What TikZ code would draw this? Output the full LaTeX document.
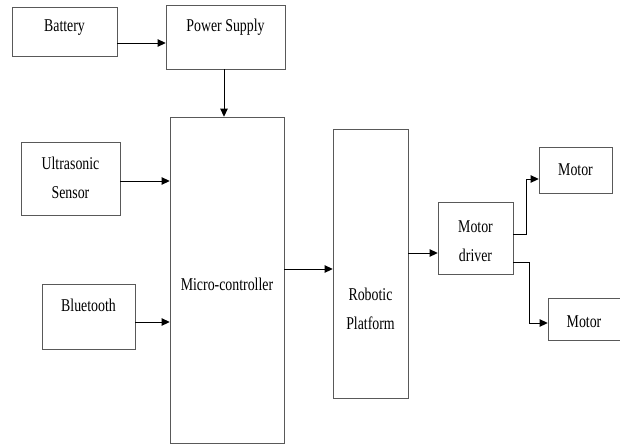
\documentclass[tikz,border=0pt]{standalone}
\usepackage{fontspec}
\setmainfont{Liberation Serif}
\usetikzlibrary{arrows.meta}
\newcommand{\cnd}[1]{\scalebox{0.77}[1]{#1}}
\begin{document}
\begin{tikzpicture}[x=1pt,y=-1pt,
  box/.style={draw=black!65, line width=0.7pt, inner sep=0pt, fill=white},
  txt/.style={font=\fontsize{18}{29}\selectfont, align=center, inner sep=0pt},
  arr/.style={draw=black, line width=0.9pt, -{Triangle[length=8pt,width=7.5pt]}}]
\useasboundingbox (0,0) rectangle (620,444);
% boxes
\node[box, minimum width=105pt, minimum height=49pt] (bat) at (64.5,31.5) {};
\node[box, minimum width=119pt, minimum height=64pt] (ps) at (225.5,37) {};
\node[box, minimum width=99pt, minimum height=73pt] (us) at (70.5,178.5) {};
\node[box, minimum width=93pt, minimum height=65pt] (bt) at (88.5,316.5) {};
\node[box, minimum width=114pt, minimum height=326pt] (mc) at (227,280) {};
\node[box, minimum width=75pt, minimum height=269pt] (rp) at (370.5,263.5) {};
\node[box, minimum width=75pt, minimum height=72pt] (md) at (475.5,238) {};
\node[box, minimum width=73pt, minimum height=46pt] (m1) at (575.5,170) {};
\node[box, minimum width=72pt, minimum height=42pt] (m2) at (584,319) {};
% texts
\node[txt] (tbat) at (64.5,28) {\cnd{Battery}};
\node[txt] (tps) at (225.5,27) {\cnd{Power Supply}};
\node[txt] (tus) at (70.5,178) {\cnd{Ultrasonic}\\\cnd{Sensor}};
\node[txt] (tbt) at (88.5,305) {\cnd{Bluetooth}};
\node[txt] (tmc) at (227,284) {\cnd{Micro-controller}};
\node[txt] (trp) at (370.5,309) {\cnd{Robotic}\\\cnd{Platform}};
\node[txt] (tmd) at (475.5,241.5) {\cnd{Motor}\\\cnd{driver}};
\node[txt] (tm1) at (575.5,170) {\cnd{Motor}};
\node[txt] (tm2) at (584,322) {\cnd{Motor}};
% connectors
\coordinate (a1) at ([yshift=-11.5pt]bat.east);
\draw[arr] (a1) -- (a1 -| ps.west);
\coordinate (a2) at ([xshift=-1.5pt]ps.south);
\draw[arr] (a2) -- (a2 |- mc.north);
\coordinate (a3) at ([yshift=-2.5pt]us.east);
\draw[arr] (a3) -- (a3 -| mc.west);
\coordinate (a4) at ([yshift=-5.5pt]bt.east);
\draw[arr] (a4) -- (a4 -| mc.west);
\coordinate (a5) at ([yshift=11pt]mc.east);
\draw[arr] (a5) -- (a5 -| rp.west);
\coordinate (a6) at ([yshift=10.5pt]rp.east);
\draw[arr] (a6) -- (a6 -| md.west);
\coordinate (a7) at ([yshift=4pt]md.east);
\coordinate (a8) at ([yshift=-9pt]m1.west);
\draw[arr] (a7) -- (526,234) -- (526,179) -- (a8);
\coordinate (a9) at ([yshift=-24pt]md.east);
\coordinate (a10) at ([yshift=-4pt]m2.west);
\draw[arr] (a9) -- (529,262) -- (529,323) -- (a10);
\end{tikzpicture}
\end{document}
